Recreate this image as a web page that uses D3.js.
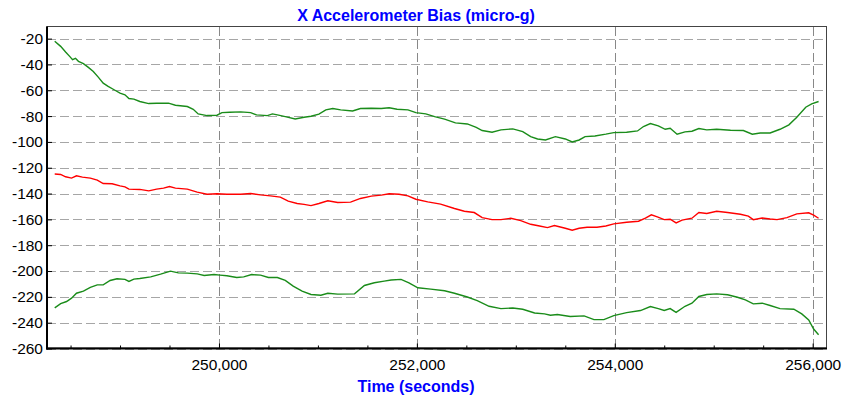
<!DOCTYPE html>
<head>
  <meta charset="utf-8">
  <style>
    body { margin: 0; background: #fff; }
    svg text { font-family: "Liberation Sans", Arial, sans-serif; }
    svg .tick text { font-size: 15.5px; fill: #000; }
    svg .hgrid { stroke: #a6a6a6; stroke-width: 1px; stroke-dasharray: 9,4; }
    svg .vgrid { stroke: #888; stroke-width: 1px; stroke-dasharray: 9,4; }
    svg .series { fill: none; stroke-width: 1.4px; }
  </style>
</head>

<body>
<script src="https://cdn.jsdelivr.net/npm/d3@7"></script>

<script>
  // tick labels
  var xTicks = [250000, 252000, 254000, 256000];
  var xMinorTicks = [248500, 249000, 249500, 250500, 251000, 251500, 252500, 253000, 253500,
                     254500, 255000, 255500];
  var yTicks = [-20, -40, -60, -80, -100, -120, -140, -160, -180, -200, -220, -240, -260];

  // [time (s), bias (micro-g)]
  var upperBound = [
    [248340,-22],[248400,-26],[248450,-30.4],[248500,-34.5],[248520,-36.3],[248550,-35.3],
    [248580,-37.6],[248630,-39.4],[248680,-42.3],[248730,-45.4],[248780,-49.8],[248830,-54.5],
    [248880,-57],[248940,-59.6],[249000,-62.2],[249050,-63.5],[249090,-66.4],[249140,-66.9],
    [249200,-68.7],[249290,-70.3],[249370,-70],[249490,-70],[249560,-71.6],[249680,-72.6],
    [249740,-74.7],[249790,-78.3],[249880,-79.6],[249980,-79.3],[250030,-77.3],[250110,-77],
    [250220,-76.7],[250320,-77.3],[250380,-79.1],[250490,-79.6],[250540,-78.3],[250590,-79.1],
    [250670,-80.4],[250770,-82.2],[250860,-80.9],[250930,-80.1],[251010,-78.5],[251080,-75.2],
    [251150,-74.1],[251230,-75.2],[251350,-76],[251430,-74.1],[251540,-73.9],[251640,-74.1],
    [251720,-73.6],[251800,-74.7],[251910,-75.2],[251990,-77.3],[252090,-78.3],[252180,-80.4],
    [252280,-82.4],[252390,-85.3],[252510,-86.1],[252600,-88.7],[252660,-91.2],[252760,-92.5],
    [252850,-90.7],[252970,-89.9],[253070,-92],[253150,-95.9],[253220,-97.7],[253300,-98.5],
    [253400,-95.9],[253500,-97.7],[253570,-100],[253640,-98.5],[253700,-95.9],[253800,-95.4],
    [253910,-94.0],[253990,-92.8],[254120,-92.5],[254230,-91.5],[254290,-88.1],[254360,-85.8],
    [254440,-87.6],[254510,-90.2],[254560,-89.4],[254630,-94],[254710,-92.2],[254780,-91.7],
    [254850,-89.6],[254930,-90.7],[255030,-90.2],[255170,-91],[255300,-91.2],[255390,-94],
    [255470,-93.1],[255570,-93.1],[255670,-90.2],[255760,-86.8],[255840,-80.9],[255930,-73.1],
    [255990,-70.5],[256060,-68.7]
  ];

  var estimate = [
    [248340,-124.9],[248400,-125.2],[248450,-127],[248510,-128],[248560,-126.2],[248620,-127.3],
    [248700,-128],[248770,-129.6],[248830,-132.2],[248920,-132.4],[249000,-134],[249050,-134.8],
    [249090,-136.6],[249200,-136.8],[249290,-137.9],[249370,-136.6],[249440,-135.8],[249500,-134.5],
    [249560,-135.8],[249680,-136.6],[249780,-138.9],[249880,-140.5],[249980,-140.2],[250080,-140.5],
    [250220,-140.5],[250320,-140],[250420,-141],[250520,-141.8],[250620,-142.8],[250700,-145.9],
    [250790,-147.7],[250860,-148.4],[250930,-149.3],[251010,-147.7],[251100,-145.6],[251200,-146.9],
    [251330,-146.6],[251430,-143.8],[251540,-142],[251640,-141.2],[251720,-140.2],[251820,-140.5],
    [251910,-141.8],[251990,-144.4],[252110,-146.4],[252240,-148.2],[252380,-151.6],[252480,-153.7],
    [252580,-154.7],[252660,-158.6],[252760,-160.2],[252850,-160.2],[252950,-159.1],[253050,-160.9],
    [253150,-163.8],[253240,-165.1],[253320,-166.4],[253390,-164.8],[253500,-166.9],[253570,-168.4],
    [253640,-166.9],[253720,-166.1],[253820,-166.1],[253910,-165.1],[253990,-163.5],[254120,-162.2],
    [254240,-161.4],[254310,-159.1],[254370,-156.5],[254430,-158.1],[254500,-160.2],[254560,-159.9],
    [254620,-162.7],[254680,-160.6],[254780,-159.1],[254850,-154.7],[254930,-155.4],[255030,-153.7],
    [255140,-154.7],[255270,-156],[255350,-157.5],[255400,-160.2],[255490,-158.9],[255570,-159.7],
    [255640,-160.2],[255740,-158.6],[255840,-155.7],[255960,-154.9],[256010,-156.7],[256060,-159.1]
  ];

  var lowerBound = [
    [248340,-228.5],[248400,-225.2],[248460,-223.6],[248510,-221],[248560,-217.2],[248630,-215.6],
    [248700,-212.7],[248770,-210.7],[248830,-210.7],[248900,-207.3],[248970,-206],[249050,-206.5],
    [249090,-208.1],[249140,-206.3],[249200,-205.8],[249310,-204.5],[249410,-202.4],[249510,-200.1],
    [249590,-201.4],[249680,-201.6],[249780,-202.2],[249850,-203.5],[249950,-202.7],[250010,-203.2],
    [250080,-203.7],[250180,-205],[250250,-204.5],[250330,-202.7],[250420,-203.2],[250500,-205],
    [250590,-205],[250670,-207.3],[250750,-211.7],[250840,-215.6],[250930,-218.2],[251030,-218.7],
    [251100,-217.2],[251200,-217.9],[251370,-217.7],[251470,-211.2],[251570,-209.1],[251670,-207.8],
    [251740,-207],[251840,-206.5],[251920,-209.1],[252010,-213],[252140,-214],[252280,-215.3],
    [252380,-217.2],[252510,-220.1],[252610,-222.9],[252730,-227.3],[252850,-229.1],[252970,-228.6],
    [253070,-229.6],[253190,-232.5],[253290,-233.2],[253350,-234.2],[253420,-233.7],[253550,-235.2],
    [253690,-234.7],[253790,-237.6],[253890,-237.6],[253990,-234.5],[254120,-232.2],[254260,-230.6],
    [254360,-227.5],[254440,-229.1],[254500,-230.6],[254560,-229.1],[254620,-232],[254710,-227.3],
    [254780,-224.9],[254850,-219.7],[254930,-218.2],[255030,-217.7],[255140,-218.4],[255240,-220.3],
    [255320,-222.3],[255400,-225.4],[255490,-224.9],[255570,-226.7],[255670,-229.1],[255810,-229.6],
    [255890,-233.2],[255960,-237.9],[256010,-244.9],[256060,-249.3]
  ];

  var padding = { top: 27, right: 17, bottom: 52.5, left: 47 };
  var fullW = 844, fullH = 401;
  var width = fullW - padding.left - padding.right,
      height = fullH - padding.top - padding.bottom;

  var svg = d3.select("body")
    .append("svg")
      .attr("width", fullW)
      .attr("height", fullH);

  var g = svg.append("g")
      .attr("transform", "translate(" + padding.left + "," + padding.top + ")");

  var xScale = d3.scaleLinear().domain([248262, 256145]).range([0, width]);
  var yScale = d3.scaleLinear().domain([-260, -11]).range([height, 0]);

  // grid
  g.selectAll("line.hgrid")
    .data(yTicks)
    .enter().append("line")
      .classed("hgrid", true)
      .attr("x1", 0)
      .attr("x2", width)
      .attr("y1", function (d) { return Math.round(yScale(d)) + 0.5; })
      .attr("y2", function (d) { return Math.round(yScale(d)) + 0.5; });

  g.selectAll("line.vgrid")
    .data(xTicks)
    .enter().append("line")
      .classed("vgrid", true)
      .attr("y1", 0)
      .attr("y2", height)
      .attr("x1", function (d) { return Math.round(xScale(d)) + 0.5; })
      .attr("x2", function (d) { return Math.round(xScale(d)) + 0.5; });

  // series
  var line = d3.line()
    .x(function (d) { return xScale(d[0]); })
    .y(function (d) { return yScale(d[1]); });

  g.append("path").classed("series", true).attr("d", line(upperBound)).style("stroke", "#1a8c1a");
  g.append("path").classed("series", true).attr("d", line(lowerBound)).style("stroke", "#1a8c1a");
  g.append("path").classed("series", true).attr("d", line(estimate)).style("stroke", "#ff0000");

  // frame (top and right)
  g.append("rect")
      .attr("x", 0)
      .attr("y", -0.5)
      .attr("width", width - 0.5)
      .attr("height", height)
      .style("fill", "none")
      .style("stroke", "#444")
      .style("stroke-width", "1px");

  // x axis
  var xAxis = d3.axisBottom(xScale)
    .tickValues(xTicks)
    .tickFormat(d3.format(","))
    .tickSizeInner(-5)
    .tickSizeOuter(0)
    .tickPadding(10);

  var xa = g.append("g")
      .attr("transform", "translate(0," + height + ")")
      .call(xAxis);
  xa.select(".domain").remove();

  var xMinor = d3.axisBottom(xScale)
    .tickValues(xMinorTicks)
    .tickFormat("")
    .tickSizeInner(-3)
    .tickSizeOuter(0);

  g.append("g")
      .attr("transform", "translate(0," + height + ")")
      .call(xMinor)
    .select(".domain").remove();

  // y axis, plain hyphen for the minus sign
  var yAxis = d3.axisLeft(yScale)
    .tickValues(yTicks)
    .tickFormat(function (d) { return String(d); })
    .tickSizeInner(-5)
    .tickSizeOuter(0)
    .tickPadding(4);

  var ya = g.append("g")
      .call(yAxis);
  ya.select(".domain").remove();

  // heavy axis lines
  g.append("line")
      .attr("x1", -1).attr("x2", width)
      .attr("y1", height).attr("y2", height)
      .style("stroke", "#000").style("stroke-width", "2px");
  g.append("line")
      .attr("x1", 0).attr("x2", 0)
      .attr("y1", -0.5).attr("y2", height + 1)
      .style("stroke", "#000").style("stroke-width", "2px");

  // titles
  svg.append("text")
      .attr("x", 416)
      .attr("y", 21)
      .attr("text-anchor", "middle")
      .style("font-size", "16px")
      .style("font-weight", "bold")
      .style("fill", "#0000ff")
      .text("X Accelerometer Bias (micro-g)");

  svg.append("text")
      .attr("x", 416)
      .attr("y", 392)
      .attr("text-anchor", "middle")
      .style("font-size", "16px")
      .style("font-weight", "bold")
      .style("fill", "#0000ff")
      .text("Time (seconds)");
</script>
</body>
</html>
